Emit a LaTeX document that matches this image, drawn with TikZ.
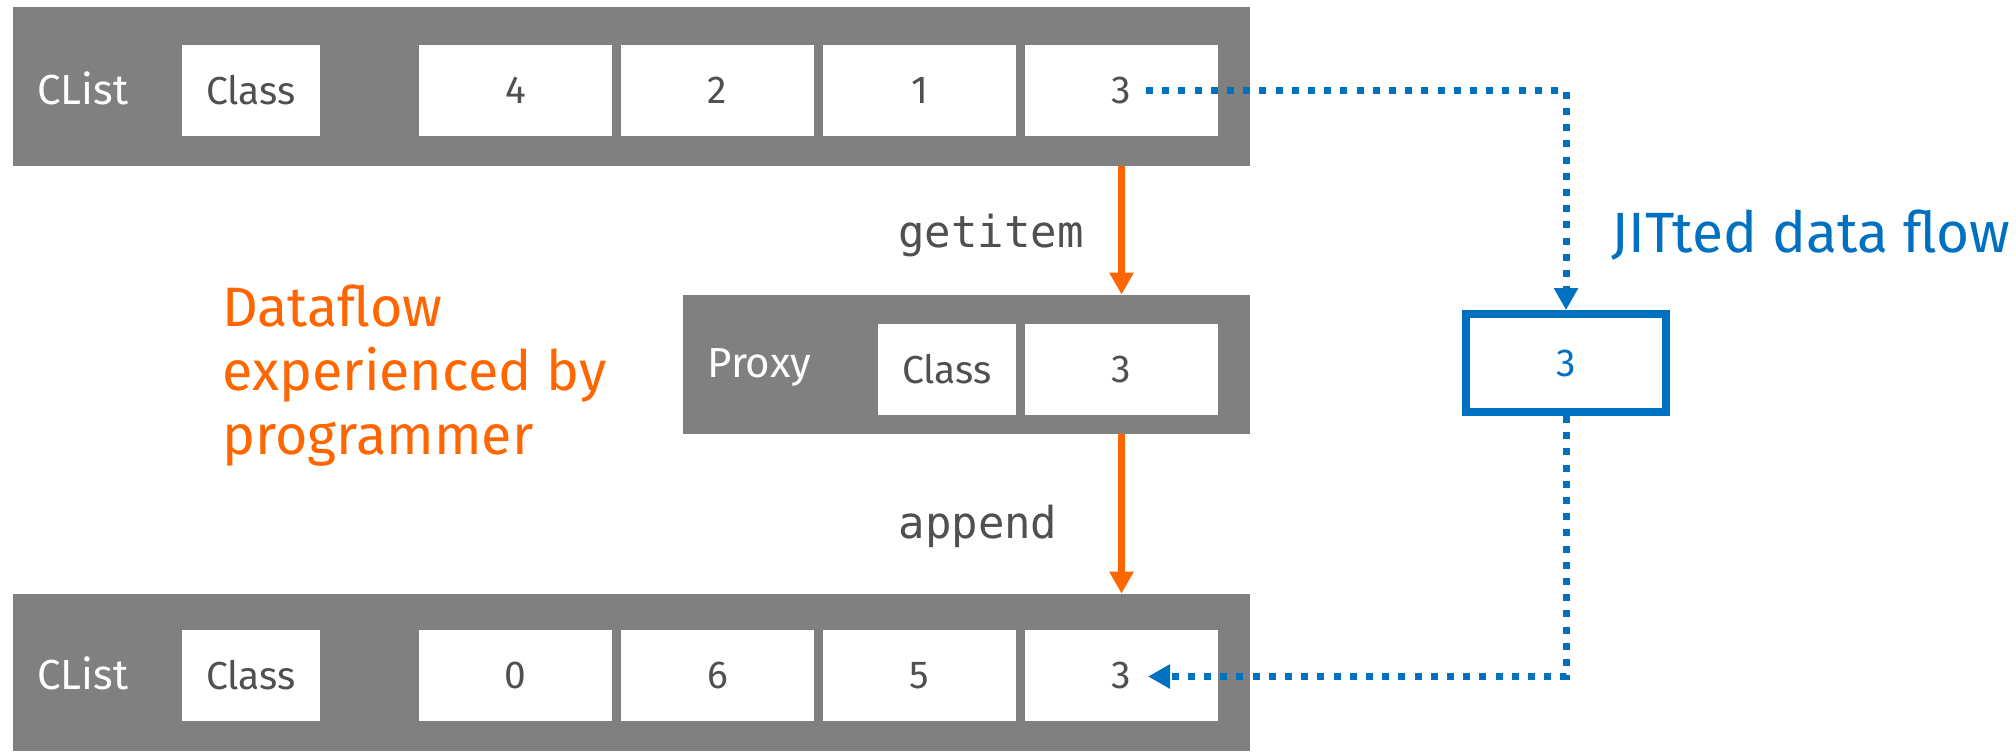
\documentclass[tikz,border=0pt]{standalone}
\usepackage{fontspec}
\setmainfont{Fira Sans}
\newfontfamily\codefont{DejaVu Sans Mono}
\usetikzlibrary{arrows.meta}

\definecolor{bargray}{HTML}{808080}
\definecolor{inkgray}{HTML}{505050}
\definecolor{flowor}{HTML}{FF6600}
\definecolor{jitblue}{HTML}{0070C0}

\tikzset{
  bar/.style={fill=bargray, inner sep=0pt, minimum height=#1},
  barlabel/.style={anchor=west, text=white, font=\fontsize{21}{25}\selectfont, inner sep=0pt},
  classbox/.style={fill=white, minimum width=69pt, minimum height=45.5pt, inner sep=0pt,
    text=inkgray, font=\fontsize{19.5}{23}\selectfont},
  cellbox/.style={fill=white, minimum width=96.5pt, minimum height=45.5pt, inner sep=0pt,
    text=inkgray, font=\fontsize{19.5}{23}\selectfont},
  callflow/.style={draw=flowor, line width=3.5pt, -{Triangle[length=11pt,width=11.5pt]}},
  jitflow/.style={draw=jitblue, line width=3.5pt, dash pattern=on 3.5pt off 4.6pt,
    -{Triangle[length=11pt,width=11.5pt]}},
  jitbox/.style={draw=jitblue, line width=4pt, fill=white, minimum width=100pt,
    minimum height=49pt, inner sep=0pt, text=jitblue, font=\fontsize{19.5}{23}\selectfont},
  codelabel/.style={text=inkgray, font=\codefont\fontsize{22}{26}\selectfont, inner sep=0pt},
}

\begin{document}
\begin{tikzpicture}[x=0.5pt,y=-0.5pt]
\useasboundingbox (0,0) rectangle (2016,751);

% source list
\node[bar=79.5pt, minimum width=618.5pt] (top) at (631.5,86.5) {};
\node[barlabel] (toplbl) at (37,88) {CList};
\node[classbox] (tcls) at (251,90.5) {Class};
\node[cellbox] (tc1) at (515.5,90.5) {4};
\node[cellbox] (tc2) at (717.5,90.5) {2};
\node[cellbox] (tc3) at (919.5,90.5) {1};
\node[cellbox] (tc4) at (1121.5,90.5) {3};

% proxy object
\node[bar=69.5pt, minimum width=283.5pt] (proxy) at (966.5,364.5) {};
\node[barlabel] (proxylbl) at (707,367) {Proxy};
\node[classbox] (pcls) at (947,369.5) {Class};
\node[cellbox] (pc) at (1121.5,369.5) {3};

% destination list
\node[bar=78.5pt, minimum width=618.5pt] (bot) at (631.5,672.5) {};
\node[barlabel] (botlbl) at (37,673) {CList};
\node[classbox] (bcls) at (251,675.5) {Class};
\node[cellbox] (bc1) at (515.5,675.5) {0};
\node[cellbox] (bc2) at (717.5,675.5) {6};
\node[cellbox] (bc3) at (919.5,675.5) {5};
\node[cellbox] (bc4) at (1121.5,675.5) {3};

% JIT copy
\node[jitbox] (jit) at (1566,363) {3};
\node[anchor=base west, inner sep=0pt, text=jitblue, font=\fontsize{28.4}{32}\selectfont]
  (jitlbl) at (1611,252) {JITted data flow};

% programmer's view (anchored on the baseline of its last line)
\node[anchor=base west, inner sep=0pt, align=left, text=flowor,
  font=\fontsize{27.8}{32}\selectfont] (devlbl) at (222,454)
  {Dataflow\\experienced by\\programmer};

\node[codelabel, anchor=base] (getlbl) at (991,247) {getitem};
\node[codelabel, anchor=base] (applbl) at (978,538) {append};

% orange calls
\draw[callflow] (tc4 |- top.south) -- (pc |- proxy.north);
\draw[callflow] (pc |- proxy.south) -- (bc4 |- bot.north);

% blue JIT path
\coordinate (jstart) at ([xshift=12.25pt]tc4.center);
\coordinate (jend) at ([xshift=13.25pt,yshift=-0.5pt]bc4.center);
\draw[jitflow] (jstart) -| (jit.north);
\draw[jitflow] (jit.south) |- (jend);
\end{tikzpicture}
\end{document}
